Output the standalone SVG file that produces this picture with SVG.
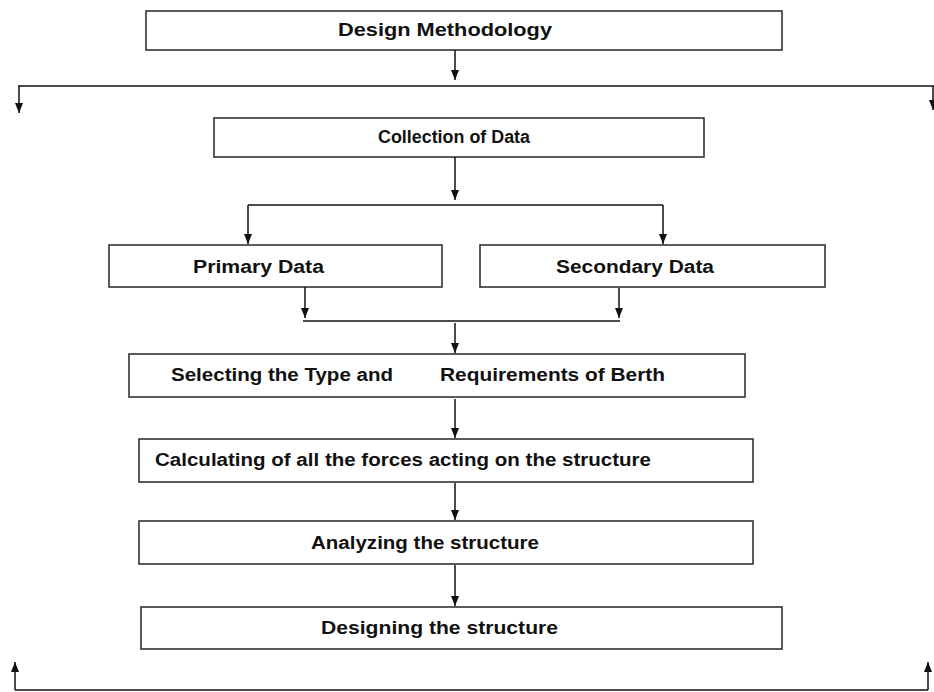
<svg xmlns="http://www.w3.org/2000/svg" width="934" height="692" viewBox="0 0 934 692">
<defs>
<style>
.box{fill:#fff;stroke:#333;stroke-width:1.6}
.lbl{font-family:"Liberation Sans",Arial,sans-serif;font-weight:bold;font-size:18px;fill:#111}
.ln{fill:none;stroke:#111;stroke-width:1.5}
</style>
<marker id="ah" markerUnits="userSpaceOnUse" markerWidth="10" markerHeight="10" refX="10" refY="4" orient="auto">
<path d="M0,0 L10,4 L0,8 Z" fill="#111"/>
</marker>
</defs>
<rect width="934" height="692" fill="#fff"/>
<g id="n-design-methodology">
<rect class="box" x="146" y="11" width="636" height="39"/>
<text class="lbl" x="338" y="36" textLength="214" lengthAdjust="spacingAndGlyphs">Design Methodology</text>
</g>
<g id="n-collection">
<rect class="box" x="214" y="118" width="490" height="39"/>
<text class="lbl" x="378" y="143" textLength="152" lengthAdjust="spacingAndGlyphs">Collection of Data</text>
</g>
<g id="n-primary">
<rect class="box" x="109" y="245" width="333" height="42"/>
<text class="lbl" x="193" y="273" textLength="131" lengthAdjust="spacingAndGlyphs">Primary Data</text>
</g>
<g id="n-secondary">
<rect class="box" x="480" y="245" width="345" height="42"/>
<text class="lbl" x="556" y="273" textLength="158" lengthAdjust="spacingAndGlyphs">Secondary Data</text>
</g>
<g id="n-selecting">
<rect class="box" x="129" y="354" width="616" height="43"/>
<text class="lbl" x="171" y="381" textLength="222" lengthAdjust="spacingAndGlyphs">Selecting the Type and</text>
<text class="lbl" x="440" y="381" textLength="225" lengthAdjust="spacingAndGlyphs">Requirements of Berth</text>
</g>
<g id="n-calculating">
<rect class="box" x="139" y="439" width="614" height="43"/>
<text class="lbl" x="155" y="466" textLength="496" lengthAdjust="spacingAndGlyphs">Calculating of all the forces acting on the structure</text>
</g>
<g id="n-analyzing">
<rect class="box" x="139" y="521" width="614" height="43"/>
<text class="lbl" x="311" y="549" textLength="228" lengthAdjust="spacingAndGlyphs">Analyzing the structure</text>
</g>
<g id="n-designing">
<rect class="box" x="141" y="607" width="641" height="42"/>
<text class="lbl" x="321" y="634" textLength="237" lengthAdjust="spacingAndGlyphs">Designing the structure</text>
</g>
<g id="connectors">
<line class="ln" x1="455" y1="50" x2="455" y2="80" marker-end="url(#ah)"/>
<line class="ln" x1="18" y1="86" x2="934" y2="86"/>
<line class="ln" x1="19" y1="86" x2="19" y2="113" marker-end="url(#ah)"/>
<line class="ln" x1="933" y1="86" x2="933" y2="110" marker-end="url(#ah)"/>
<line class="ln" x1="455" y1="157" x2="455" y2="200" marker-end="url(#ah)"/>
<line class="ln" x1="248" y1="205" x2="663" y2="205"/>
<line class="ln" x1="248" y1="205" x2="248" y2="244" marker-end="url(#ah)"/>
<line class="ln" x1="663" y1="205" x2="663" y2="244" marker-end="url(#ah)"/>
<line class="ln" x1="305" y1="287" x2="305" y2="318" marker-end="url(#ah)"/>
<line class="ln" x1="619" y1="288" x2="619" y2="318" marker-end="url(#ah)"/>
<line class="ln" x1="303" y1="321" x2="620" y2="321"/>
<line class="ln" x1="455" y1="323" x2="455" y2="353" marker-end="url(#ah)"/>
<line class="ln" x1="455" y1="399" x2="455" y2="438" marker-end="url(#ah)"/>
<line class="ln" x1="455" y1="483" x2="455" y2="520" marker-end="url(#ah)"/>
<line class="ln" x1="455" y1="565" x2="455" y2="606" marker-end="url(#ah)"/>
<line class="ln" x1="15" y1="690" x2="928" y2="690"/>
<line class="ln" x1="15" y1="690" x2="15" y2="662" marker-end="url(#ah)"/>
<line class="ln" x1="928" y1="690" x2="928" y2="662" marker-end="url(#ah)"/>
</g>
</svg>
